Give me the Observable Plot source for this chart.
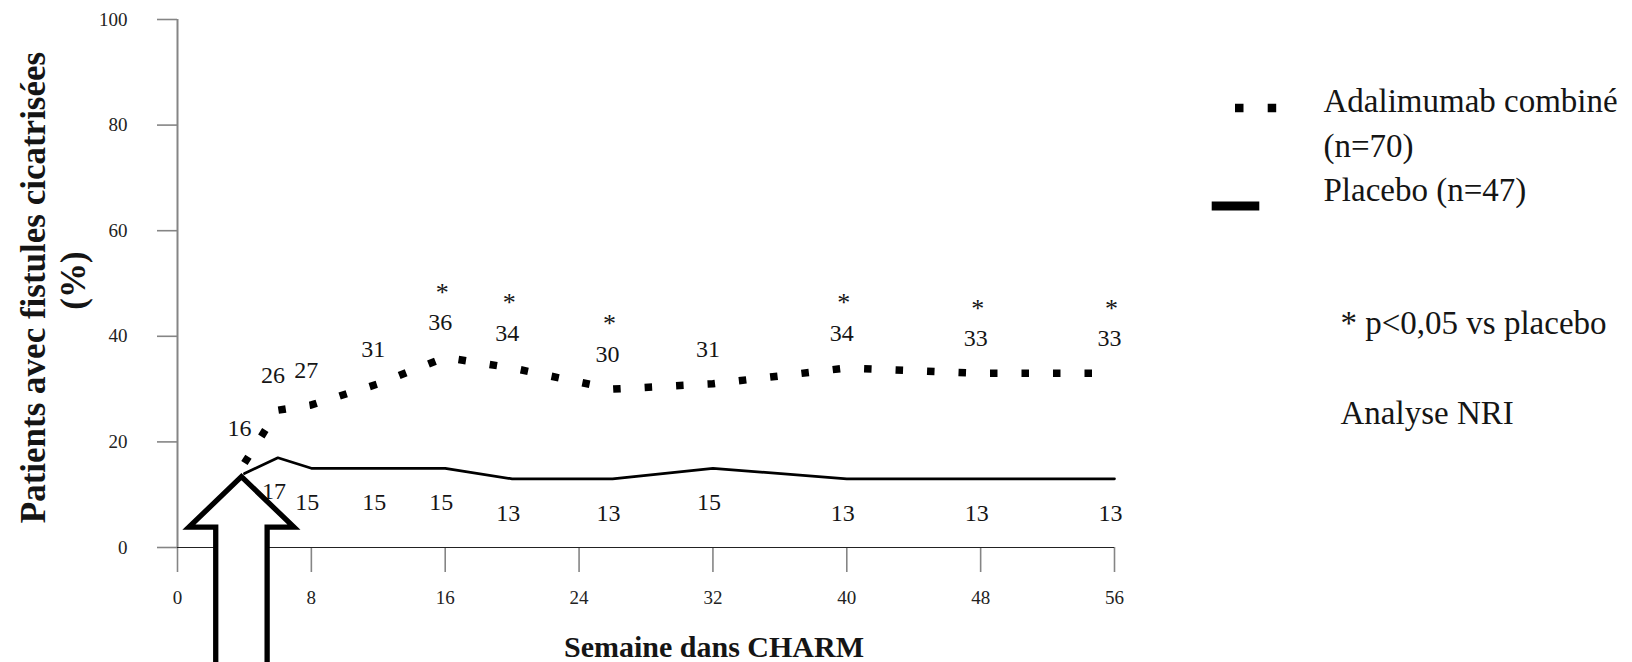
<!DOCTYPE html>
<html>
<head>
<meta charset="utf-8">
<script src="https://cdn.jsdelivr.net/npm/d3@7"></script>
<script src="https://cdn.jsdelivr.net/npm/@observablehq/plot@0.6"></script>
<style>
  html, body { margin: 0; padding: 0; background: white; overflow: hidden; }
</style>
</head>
<body>
<div id="chart"></div>
<script>
// ---- Data ----
const weeks = [4, 6, 8, 12, 16, 20, 26, 32, 40, 48, 56];
const adalimumab = [16, 26, 27, 31, 36, 34, 30, 31, 34, 33, 33];
const placebo = [14, 17, 15, 15, 15, 13, 13, 15, 13, 13, 13];
const placeboLabels = ["", "17", "15", "15", "15", "13", "13", "15", "13", "13", "13"];
const significantWeeks = [16, 20, 26, 40, 48, 56];
const xTicks = [0, 8, 16, 24, 32, 40, 48, 56];
const yTicks = [0, 20, 40, 60, 80, 100];
const seriesNames = ["Adalimumab combiné", "(n=70)", "Placebo (n=47)"];
const notes = ["* p<0,05 vs placebo", "Analyse NRI"];
const xTitle = "Semaine dans CHARM";
const yTitleLines = ["Patients avec fistules cicatrisées", "(%)"];

const adaRows = weeks.map((w, i) => ({week: w, value: adalimumab[i]}));
const plaRows = weeks.map((w, i) => ({week: w, value: placebo[i], label: placeboLabels[i]}));
const starRows = adaRows.filter(d => significantWeeks.includes(d.week));

const FONT = "'Liberation Serif', 'DejaVu Serif', serif";
const INK = "#151515";

// Block arrow pointing at the start of the treatment (first data point)
function arrowMark(index, scales, values, dimensions) {
  const tx = scales.x(weeks[0]) - 2.5;
  const ty = scales.y(placebo[0]) + 3.5;
  const hw = 52.5, sw = 25.7, hh = 50.6, bottom = dimensions.height + 20;
  const d = `M${tx},${ty}L${tx + hw},${ty + hh}L${tx + sw},${ty + hh}L${tx + sw},${bottom}` +
            `L${tx - sw},${bottom}L${tx - sw},${ty + hh}L${tx - hw},${ty + hh}Z`;
  return d3.create("svg:path")
    .attr("d", d).attr("fill", "white").attr("stroke", "black")
    .attr("stroke-width", 5.3).attr("stroke-linejoin", "miter").attr("stroke-miterlimit", 10)
    .node();
}

// Legend swatches drawn in the right margin
function legendSwatches(index, scales, values, dimensions) {
  const x0 = dimensions.width - dimensions.marginRight;
  const y0 = dimensions.marginTop;
  const g = d3.create("svg:g");
  g.append("line")
    .attr("x1", x0 + 121).attr("x2", x0 + 163).attr("y1", y0 + 89).attr("y2", y0 + 89)
    .attr("stroke", "black").attr("stroke-width", 8.5).attr("stroke-dasharray", "8.5 24.2");
  g.append("line")
    .attr("x1", x0 + 97.7).attr("x2", x0 + 145.3).attr("y1", y0 + 187).attr("y2", y0 + 187)
    .attr("stroke", "black").attr("stroke-width", 9);
  return g.node();
}

const chart = Plot.plot({
  width: 1632,
  height: 662,
  marginLeft: 177,
  marginRight: 518,
  marginTop: 19,
  marginBottom: 115,
  style: {fontFamily: FONT, background: "white", overflow: "hidden"},
  x: {domain: [0, 56]},
  y: {domain: [0, 100]},
  marks: [
    Plot.axisY({ticks: yTicks, tickSize: 20, tickPadding: 30, fontSize: 19, stroke: "#858585",
                strokeWidth: 1.6, fill: "#222", label: null}),
    Plot.axisX({ticks: xTicks, tickSize: 25, tickPadding: 18, fontSize: 19, stroke: "#858585",
                strokeWidth: 1.6, fill: "#222", label: null}),
    Plot.ruleX([0], {stroke: "#858585", strokeWidth: 2}),
    Plot.ruleY([0], {stroke: "#222", strokeWidth: 1.2}),
    // series
    Plot.line(plaRows, {x: "week", y: "value", stroke: "black", strokeWidth: 2.7}),
    Plot.line(adaRows, {x: "week", y: "value", stroke: "black", strokeWidth: 7.5,
                        strokeDasharray: "7.5 24", strokeLinecap: "butt"}),
    // value labels
    Plot.text(adaRows, {x: "week", y: "value", text: d => String(d.value), dx: -5, dy: -35,
                        fontSize: 24, fill: INK}),
    Plot.text(plaRows, {x: "week", y: "value", text: "label", dx: -4, dy: 34,
                        fontSize: 24, fill: INK}),
    Plot.text(starRows, {x: "week", y: "value", text: () => "*", dx: -3, dy: -65,
                         fontSize: 26, fill: INK}),
    // arrow annotation
    arrowMark,
    // axis titles
    Plot.text([xTitle], {frameAnchor: "bottom", text: d => d, dx: 68, dy: 109, lineAnchor: "bottom",
                         textAnchor: "middle", fontSize: 30, fontWeight: "bold", fill: INK}),
    Plot.text([yTitleLines[0]], {frameAnchor: "left", text: d => d, rotate: -90, dx: -133, dy: 4,
                                 textAnchor: "middle", lineAnchor: "bottom", fontSize: 35,
                                 fontWeight: "bold", fill: INK}),
    Plot.text([yTitleLines[1]], {frameAnchor: "left", text: d => d, rotate: -90, dx: -93, dy: -3,
                                 textAnchor: "middle", lineAnchor: "bottom", fontSize: 35,
                                 fontWeight: "bold", fill: INK}),
    // legend
    legendSwatches,
    Plot.text([seriesNames[0]], {frameAnchor: "top-right", text: d => d, dx: 209, dy: 92.7,
                                 textAnchor: "start", lineAnchor: "bottom", fontSize: 33, fill: INK}),
    Plot.text([seriesNames[1]], {frameAnchor: "top-right", text: d => d, dx: 209, dy: 137.7,
                                 textAnchor: "start", lineAnchor: "bottom", fontSize: 33, fill: INK}),
    Plot.text([seriesNames[2]], {frameAnchor: "top-right", text: d => d, dx: 209, dy: 181,
                                 textAnchor: "start", lineAnchor: "bottom", fontSize: 33, fill: INK}),
    Plot.text([notes[0]], {frameAnchor: "top-right", text: d => d, dx: 226, dy: 314,
                           textAnchor: "start", lineAnchor: "bottom", fontSize: 33, fill: INK}),
    Plot.text([notes[1]], {frameAnchor: "top-right", text: d => d, dx: 226, dy: 404,
                           textAnchor: "start", lineAnchor: "bottom", fontSize: 33, fill: INK})
  ]
});
document.getElementById("chart").appendChild(chart);
</script>
</body>
</html>
